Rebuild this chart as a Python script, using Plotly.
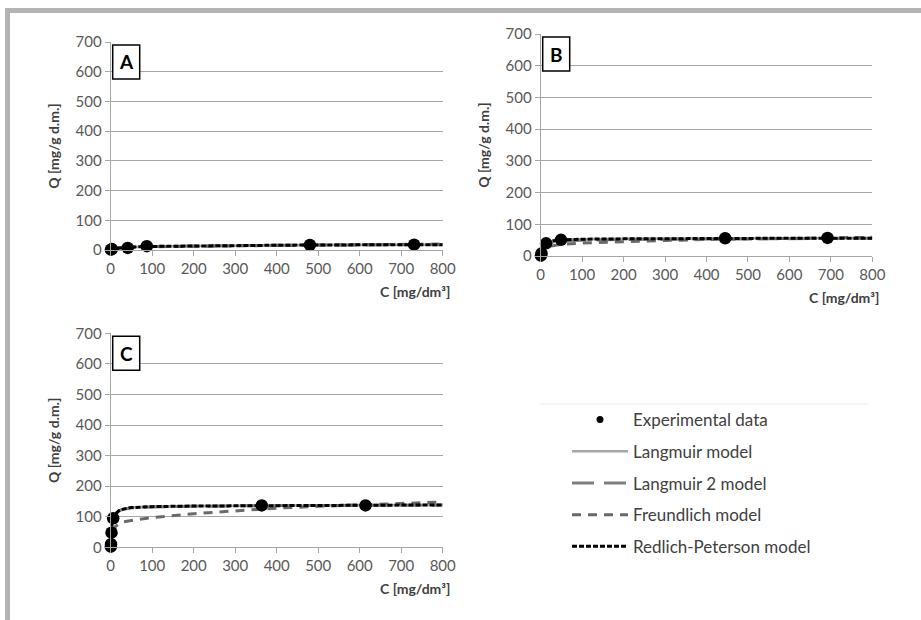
import plotly.graph_objects as go

# ---------------- data ----------------
A_exp_C = [0.5, 3, 41, 87, 480, 731]
A_exp_Q = [1, 3, 7, 13, 17, 18]
A_mod_C = [0, 5, 10, 20, 50, 100, 200, 300, 400, 500, 600, 700, 800]
A_lang_Q = [0, 3, 5, 7, 10, 12, 14, 15, 16, 17, 17, 18, 18]
A_lang2_Q = [0, 3, 5, 7, 10, 12, 14, 15.5, 16, 16.5, 17, 17.5, 18]
A_freu_Q = [0, 4, 5, 6.5, 9, 11, 13, 15, 16, 17, 18, 19, 20]
A_rp_Q = [0, 3, 5, 7, 10, 12, 14, 15, 16, 17, 17, 18, 18]

B_exp_C = [0.5, 2, 13, 49, 445, 692]
B_exp_Q = [1, 8, 40, 51, 56, 57]
B_mod_C = [0, 1, 2, 5, 10, 13, 20, 30, 50, 100, 200, 300, 400, 500, 600, 700, 800]
B_lang_Q = [0, 6, 11, 23, 35, 40, 45, 48, 51, 53, 54, 55, 55, 56, 56, 56, 56]
B_lang2_Q = [0, 7, 12, 22, 33, 37, 41, 44, 47, 50, 52, 53, 54, 55, 55, 56, 56]
B_freu_Q = [0, 12, 15, 20, 25, 27, 30, 33, 37, 41, 46, 49, 52, 54, 56, 57, 59]
B_rp_Q = [0, 6, 11, 23, 35, 40, 45, 48, 51, 53, 54, 55, 55, 56, 56, 56, 56]

C_exp_C = [0.3, 0.8, 2, 6, 364, 614]
C_exp_Q = [2, 10, 48, 95, 137, 137]
C_mod_C = [0, 1, 2, 4, 6, 10, 20, 30, 50, 100, 200, 300, 400, 500, 600, 700, 800]
C_lang_Q = [0, 40, 62, 85, 95, 108, 120, 125, 130, 133, 135, 136, 137, 137, 138, 138, 138]
C_lang2_Q = [0, 40, 62, 84, 94, 107, 119, 124, 129, 132, 134, 136, 137, 137, 138, 138, 138]
C_freu_Q = [0, 38, 46, 54, 59, 66, 78, 83, 88, 97, 110, 120, 128, 134, 139, 144, 148]
C_rp_Q = [0, 40, 62, 85, 95, 108, 120, 125, 130, 133, 135, 136, 137, 137, 138, 138, 138]

panel_labels = ["A", "B", "C"]
x_ticks = [0, 100, 200, 300, 400, 500, 600, 700, 800]
y_ticks = [0, 100, 200, 300, 400, 500, 600, 700]
series_names = ["Experimental data", "Langmuir model", "Langmuir 2 model",
                "Freundlich model", "Redlich-Peterson model"]

W, H = 921, 620
FONT = "Lato"

def px_x(v):
    return v / W

def px_y(v):
    return 1 - v / H

# panel plot areas in pixels: (left, right, top, bottom)
areas = [(110.7, 442.7, 42, 250), (540.7, 872.3, 34, 256), (110.7, 442.7, 333.3, 547.3)]

panels = [
    (A_exp_C, A_exp_Q, A_mod_C, A_lang_Q, A_lang2_Q, A_freu_Q, A_rp_Q),
    (B_exp_C, B_exp_Q, B_mod_C, B_lang_Q, B_lang2_Q, B_freu_Q, B_rp_Q),
    (C_exp_C, C_exp_Q, C_mod_C, C_lang_Q, C_lang2_Q, C_freu_Q, C_rp_Q),
]

line_styles = [
    dict(color="#a6a6a6", width=2.5, dash="solid"),
    dict(color="#7f7f7f", width=3, dash="22px,10px"),
    dict(color="#6a6a6a", width=3, dash="9px,7px"),
    dict(color="#000000", width=3, dash="5px,2px"),
]

fig = go.Figure()

# legend-only entry for the experimental points (small dot, as in the reference legend)
fig.add_trace(go.Scatter(
    x=[None], y=[None], mode="markers", marker=dict(color="black", size=7),
    name=series_names[0], legendgroup=series_names[0], legendrank=1,
    showlegend=True, xaxis="x3", yaxis="y3"))

for i, (eC, eQ, mC, l1, l2, fr, rp) in enumerate(panels):
    xa = "x" if i == 0 else f"x{i+1}"
    ya = "y" if i == 0 else f"y{i+1}"
    show = (i == 2)
    for j, q in enumerate([l1, l2, fr, rp]):
        fig.add_trace(go.Scatter(
            x=mC, y=q, mode="lines", line=line_styles[j],
            name=series_names[j + 1], legendgroup=series_names[j + 1],
            legendrank=j + 2, showlegend=show, xaxis=xa, yaxis=ya,
            cliponaxis=False, hoverinfo="skip"))
    fig.add_trace(go.Scatter(
        x=eC, y=eQ, mode="markers",
        marker=dict(color="black", size=12.5),
        name=series_names[0], legendgroup=series_names[0], legendrank=1,
        showlegend=False, xaxis=xa, yaxis=ya, cliponaxis=False))

layout = dict(
    width=W, height=H, autosize=False,
    margin=dict(l=0, r=0, t=0, b=0, pad=0, autoexpand=False),
    paper_bgcolor="white", plot_bgcolor="white",
    font=dict(family=FONT, color="#595959", size=14),
    showlegend=True,
)

for i, (l, r, t, b) in enumerate(areas):
    sfx = "" if i == 0 else str(i + 1)
    layout["xaxis" + sfx] = dict(
        domain=[px_x(l), px_x(r)], range=[0, 800], tickvals=x_ticks,
        showgrid=False, showline=True, linecolor="#a6a6a6", linewidth=1,
        ticks="outside", ticklen=5, tickcolor="#a6a6a6",
        tickfont=dict(size=15, color="#595959"), automargin=False,
        anchor="y" + sfx, zeroline=False, fixedrange=True)
    layout["yaxis" + sfx] = dict(
        domain=[px_y(b), px_y(t)], range=[0, 700], tickvals=y_ticks,
        showgrid=True, gridcolor="#a6a6a6", gridwidth=1,
        showline=True, linecolor="#a6a6a6", linewidth=1,
        ticks="outside", ticklen=5, tickcolor="#a6a6a6",
        tickfont=dict(size=15, color="#595959"), automargin=False,
        title=dict(text="<b>Q [mg/g d.m.]</b>", font=dict(size=14, color="#404040"), standoff=12),
        anchor="x" + sfx, zeroline=False, fixedrange=True)

fig.update_layout(**layout)

annotations = []
shapes = []
for i, (l, r, t, b) in enumerate(areas):
    # x-axis title, right aligned below the tick labels
    annotations.append(dict(
        text="<b>C [mg/dm³]</b>", xref="paper", yref="paper",
        x=px_x(r + 9), y=px_y(b + 41), xanchor="right", yanchor="middle",
        showarrow=False, font=dict(size=14, color="#404040", family=FONT)))
    # panel letter box
    bx0, by0 = l + 2, t + 3
    shapes.append(dict(type="rect", xref="paper", yref="paper",
                       x0=px_x(bx0), x1=px_x(bx0 + 27), y0=px_y(by0 + 34), y1=px_y(by0),
                       line=dict(color="black", width=1.5), fillcolor="white", layer="above"))
    annotations.append(dict(
        text=f"<b>{panel_labels[i]}</b>", xref="paper", yref="paper",
        x=px_x(bx0 + 13.5), y=px_y(by0 + 17), xanchor="center", yanchor="middle",
        showarrow=False, font=dict(size=19, color="black", family=FONT)))

# outer frame (grey border at top and left)
shapes.append(dict(type="line", xref="paper", yref="paper",
                   x0=px_x(5), x1=1, y0=px_y(10.5), y1=px_y(10.5),
                   line=dict(color="#b3b3b3", width=5)))
shapes.append(dict(type="line", xref="paper", yref="paper",
                   x0=px_x(7.5), x1=px_x(7.5), y0=px_y(8), y1=0,
                   line=dict(color="#b3b3b3", width=5)))
# thin separator line above the legend
shapes.append(dict(type="line", xref="paper", yref="paper",
                   x0=px_x(540), x1=px_x(868), y0=px_y(404), y1=px_y(404),
                   line=dict(color="#eeeeee", width=1)))

fig.update_layout(
    annotations=annotations, shapes=shapes,
    legend=dict(
        x=px_x(567), y=px_y(402), xanchor="left", yanchor="top",
        font=dict(size=17, color="#404040", family=FONT),
        traceorder="grouped", tracegroupgap=6.6, itemwidth=56,
        bgcolor="rgba(0,0,0,0)", borderwidth=0, itemclick=False,
    ),
)

fig.write_html("out.html",
               config={"displayModeBar": False, "responsive": False},
               post_script="document.body.style.margin='0';document.body.style.overflow='hidden';")
